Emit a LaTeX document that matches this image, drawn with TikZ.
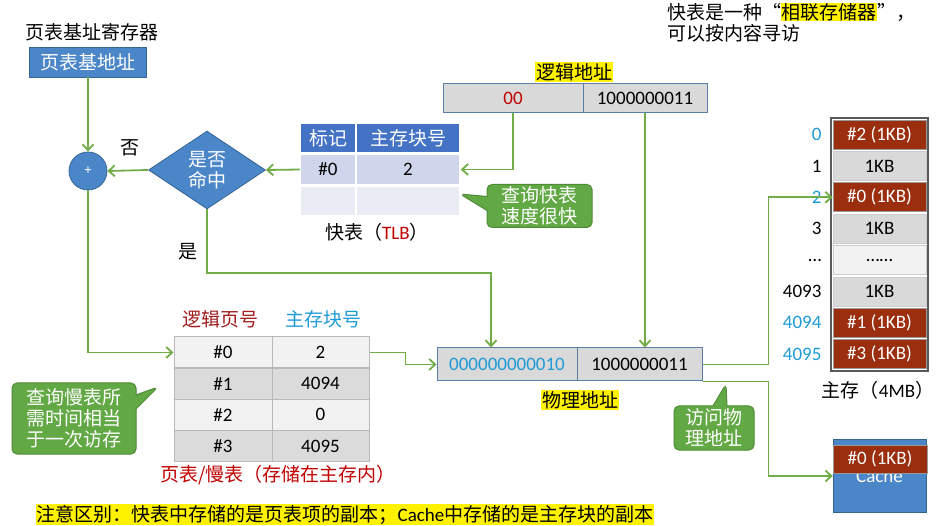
\documentclass[tikz,border=0pt]{standalone}
\usepackage{fontspec}
\setmainfont{Carlito}
\newfontfamily\cjk{Noto Sans CJK SC}
\usetikzlibrary{positioning,arrows.meta,calc,shapes.geometric,shapes.callouts}

\definecolor{boxblue}{HTML}{4A86C8}
\definecolor{tlbhead}{HTML}{4472C4}
\definecolor{tlbrowa}{HTML}{CFD5EA}
\definecolor{tlbrowb}{HTML}{E9EBF5}
\definecolor{linkgreen}{HTML}{70AD47}
\definecolor{bubblegreen}{HTML}{62A844}
\definecolor{bubbleedge}{HTML}{4F8A35}
\definecolor{addrgray}{HTML}{D9D9D9}
\definecolor{addredge}{HTML}{5B7EA6}
\definecolor{brick}{HTML}{9A2E0E}
\definecolor{darkred}{HTML}{C00000}
\definecolor{pagered}{HTML}{A01C1C}
\definecolor{numblue}{HTML}{1E9BD7}

\newcommand{\figfont}{\fontsize{19}{21}\selectfont}
\setlength{\fboxsep}{0.5pt}

\begin{document}
\begin{tikzpicture}[x=1pt,y=-1pt,
        every node/.style={font=\figfont, inner sep=0pt},
        zh/.style={font=\figfont\cjk},
        link/.style={draw=linkgreen, line width=1.8pt, -{Straight Barb[length=6pt,width=11pt]}},
        bluebox/.style={fill=boxblue, draw=boxblue!75!black, line width=0.8pt, text=white},
        tlbcell/.style={draw=white, line width=1.5pt, minimum height=30pt},
        addrcell/.style={fill=addrgray, draw=addredge, line width=1pt, minimum height=29pt},
        pagecell/.style={draw=gray!55, line width=1pt, minimum height=31pt},
        memcell/.style={minimum width=93pt, minimum height=29pt, line width=0.8pt},
        redcell/.style={memcell, fill=brick, draw=gray!80, text=white},
        graycell/.style={memcell, fill=addrgray, draw=gray!40},
        lightcell/.style={memcell, fill=gray!10, draw=gray!40},
        hilite/.style={fill=yellow, inner sep=1pt},
        bubble/.style={rectangle callout, zh, rounded corners=5pt, fill=bubblegreen, draw=bubbleedge,
            line width=1pt, text=white, align=center, callout pointer width=14pt}]
    \useasboundingbox (0,0) rectangle (937,526);

    \node[zh] (regtitle) at (92,32) {页表基址寄存器};
    \node[bluebox, zh, minimum width=117pt, minimum height=30pt] (base) at (88,62) {页表基地址};
    \node[circle, bluebox, minimum size=38pt, font=\fontsize{14}{14}\selectfont] (add) at (88,171) {+};
    \node[diamond, bluebox, zh, align=center, aspect=1.5, minimum width=117pt, minimum height=78pt] (hit) at (207,170) {是否\\命中};
    \node[zh] (nolabel) at (130,148) {否};
    \node[zh] (yeslabel) at (188,252) {是};

    \node[tlbcell, zh, fill=tlbhead, text=white, minimum width=55pt] (tlbtag) at (328,138) {标记};
    \node[tlbcell, zh, fill=tlbhead, text=white, minimum width=104pt] (tlbblk) at (408,138) {主存块号};
    \node[tlbcell, fill=tlbrowa, minimum width=55pt] (tlb1a) at (328,169.5) {\#0};
    \node[tlbcell, fill=tlbrowa, minimum width=104pt] (tlb1b) at (408,169.5) {2};
    \node[tlbcell, fill=tlbrowb, minimum width=55pt] (tlb2a) at (328,201) {};
    \node[tlbcell, fill=tlbrowb, minimum width=104pt] (tlb2b) at (408,201) {};
    \node (tlbcap) at (377,232) {{\cjk 快表（}\textcolor{darkred}{TLB}{\cjk ）}};

    \node[hilite, zh] (latitle) at (574,72) {逻辑地址};
    \node[addrcell, minimum width=140pt, text=darkred] (la1) at (513,98.5) {00};
    \node[addrcell, minimum width=124pt] (la2) at (645,98.5) {1000000011};

    \node[bubble, minimum width=105pt, minimum height=43pt, callout absolute pointer={(460,194)}] (fastnote) at (539.5,206) {查询快表\\速度很快};

    \node[zh, anchor=west] (assoc1) at (667,12) {快表是一种“\colorbox{yellow}{相联存储器}”，};
    \node[zh, anchor=west] (assoc2) at (667,33) {可以按内容寻访};

    \node[zh, text=pagered] (pghead) at (220,319) {逻辑页号};
    \node[zh, text=numblue] (blkhead) at (323,319) {主存块号};
    \foreach \pg/\blk/\fc [count=\i from 0] in {0/2/gray!10, 1/4094/gray!28, 2/0/gray!10, 3/4095/gray!28} {
        \node[pagecell, fill=\fc, minimum width=98pt] (pg\i) at (223,{352.5+31.2*\i}) {\#\pg};
        \node[pagecell, fill=\fc, minimum width=97pt] (blk\i) at (320.5,{352.5+31.2*\i}) {\blk};
    }
    \node[zh, text=darkred] (ptcap) at (278,475) {页表/慢表（存储在主存内）};

    \node[bubble, minimum width=124pt, minimum height=71pt, callout absolute pointer={(158,387)}] (slownote) at (74,418.5) {查询慢表所\\需时间相当\\于一次访存};

    \node[addrcell, minimum width=140pt, minimum height=33pt, text=numblue] (pa1) at (507,364.5) {000000000010};
    \node[addrcell, minimum width=125pt, minimum height=33pt] (pa2) at (639.5,364.5) {1000000011};
    \node[hilite, zh] (patitle) at (580,400) {物理地址};

    \node[bubble, minimum width=80pt, minimum height=44pt, callout absolute pointer={(726,384)}] (visitnote) at (714,428) {访问物\\理地址};

    \draw[gray!70!black, line width=1.2pt] (831,118) rectangle (928,371);
    \foreach \lab/\txt/\sty/\col [count=\i from 0] in {
            0/{\#2 (1KB)}/redcell/numblue,
            1/1KB/graycell/black,
            2/{\#0 (1KB)}/redcell/numblue,
            3/1KB/graycell/black,
            \dots/\dots\dots/lightcell/black,
            4093/1KB/graycell/black,
            4094/{\#1 (1KB)}/redcell/numblue,
            4095/{\#3 (1KB)}/redcell/numblue} {
        \node[\sty] (mem\i) at (879.5,{134.5+31.4*\i}) {\txt};
        \node[left=11pt of mem\i, text=\col] (memno\i) {\lab};
    }
    \node (memcap) at (878,390) {{\cjk 主存（}4MB{\cjk ）}};

    \node[fill=boxblue, draw=boxblue!75!black, text=white, minimum width=93pt, minimum height=73pt] (cache) at (879.5,476) {Cache};
    \node[redcell, minimum width=94pt, minimum height=28pt] (cacheblk) at (880,459) {\#0 (1KB)};

    \node[zh, hilite, inner sep=0.5pt, anchor=west] (bottomnote) at (36,514.5) {注意区别：快表中存储的是页表项的副本；{\rmfamily Cache}中存储的是主存块的副本};

    \coordinate (yesbend) at (491,273);
    \draw[link] (base.south) -- (add.north);
    \draw[link] (hit.west) -- (add.east);
    \draw[link] (tlb1a.west) -- (hit.east);
    \draw[link] (la1.south) |- (tlb1b.east);
    \draw[link] (add.south) |- (pg0.west);
    \draw[link] (hit.south) |- (yesbend) -- (yesbend |- pa1.north);
    \draw[link] (la2.south) -- (la2.south |- pa2.north);
    \draw[link] (blk0.east) -- ++(36,0) |- (pa1.west);
    \draw[link] (pa2.east) -- ++(66,0) |- (mem2.west);
    \draw[link] (pa2.south east) -- ++(66,0) |- (cache.west);
\end{tikzpicture}
\end{document}
